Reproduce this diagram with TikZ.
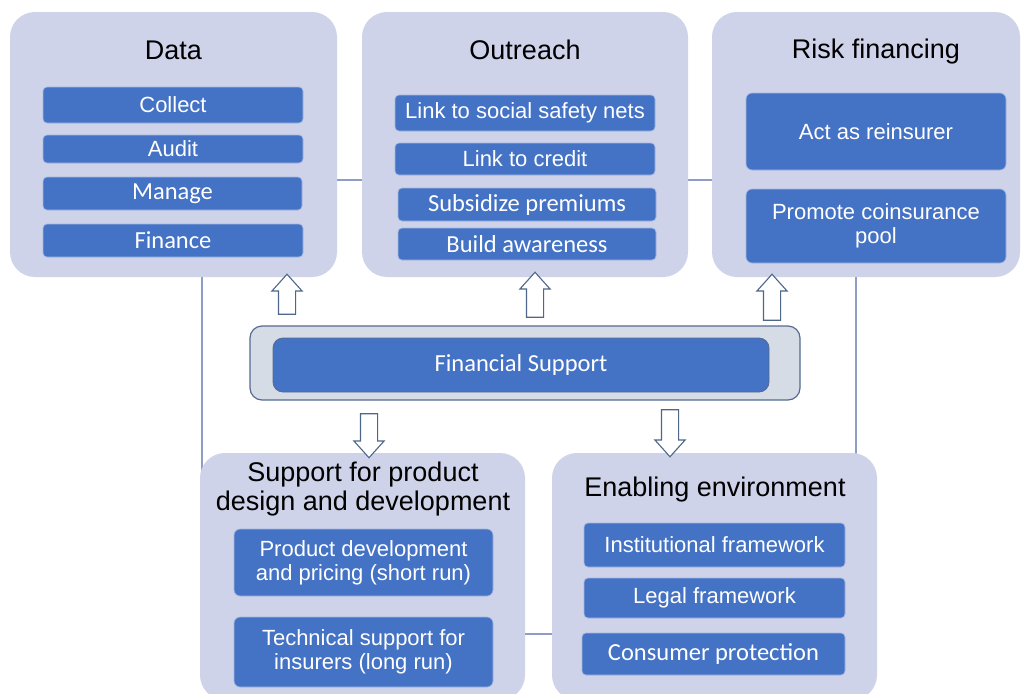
\documentclass[tikz,border=0pt]{standalone}
\usepackage{fontspec}
\setmainfont{Liberation Sans}
\newfontfamily\calfont{Carlito}
\usetikzlibrary{shapes.arrows,backgrounds}
\definecolor{bigfill}{HTML}{CED3EA}
\definecolor{itemblue}{HTML}{4472C4}
\definecolor{itemedge}{HTML}{A3B7E2}
\definecolor{finfill}{HTML}{D6DCE6}
\definecolor{finedge}{HTML}{566B90}
\definecolor{arrowedge}{HTML}{4E6689}
\definecolor{linkcol}{HTML}{8E9CC6}
\pgfdeclarelayer{back0}
\pgfsetlayers{back0,background,main}
\tikzset{
  bigbox/.style={fill=bigfill, draw=none, rounded corners=25pt, inner sep=0pt},
  titletext/.style={font=\fontsize{27}{29}\selectfont, text=black, align=center, inner sep=0pt},
  item/.style={fill=itemblue, draw=itemedge, line width=0.7pt, rounded corners=4pt,
    text=white, font=\fontsize{22}{24}\selectfont, align=center, inner sep=0pt},
  citem/.style={item, font=\calfont\fontsize{24.5}{26}\selectfont},
  blockup/.style={single arrow, shape border rotate=90, draw=arrowedge, fill=white,
    line width=1.1pt, inner sep=8pt, single arrow head extend=6.5pt,
    single arrow tip angle=84},
  blockdown/.style={blockup, shape border rotate=270},
  link/.style={draw=linkcol, line width=1.5pt}
}
\begin{document}
\begin{tikzpicture}[x=1pt,y=-1pt]
\useasboundingbox (0,0) rectangle (1029,694);
\clip (0,0) rectangle (1029,694);
\begin{pgfonlayer}{back0}
  \fill[white] (0,0) rectangle (1029,694);
\end{pgfonlayer}

% big boxes
\node[bigbox, minimum width=327pt, minimum height=265pt] (data) at (173.5,144.5) {};
\node[bigbox, minimum width=326pt, minimum height=265pt] (out) at (525,144.5) {};
\node[bigbox, minimum width=308pt, minimum height=265pt] (risk) at (866,144.5) {};
\node[bigbox, minimum width=325pt, minimum height=247pt] (sup) at (362.5,576.5) {};
\node[bigbox, minimum width=325pt, minimum height=247pt] (env) at (714.5,576.5) {};

% titles
\node[titletext] (tdata) at (173.5,50) {Data};
\node[titletext] (tout) at (525,50) {Outreach};
\node[titletext] (trisk) at (876,52) {Risk financing};
\node[titletext] (tsup) at (363,489) {Support for product\\design and development};
\node[titletext] (tenv) at (715,490) {Enabling environment};

% Data items
\node[item, minimum width=260pt, minimum height=36pt] (collect) at (173,105) {Collect};
\node[item, minimum width=260pt, minimum height=28pt] (audit) at (173,149) {Audit};
\node[citem, minimum width=259pt, minimum height=33pt] (manage) at (172.5,193.5) {Manage};
\node[citem, minimum width=260pt, minimum height=33pt] (finance) at (173,240.5) {Finance};

% Outreach items
\node[item, minimum width=260pt, minimum height=36pt] (social) at (525,113) {Link to social safety nets};
\node[item, minimum width=260pt, minimum height=32pt] (credit) at (525,159) {Link to credit};
\node[citem, minimum width=258pt, minimum height=33pt] (subsid) at (527,204.5) {Subsidize premiums};
\node[citem, minimum width=258pt, minimum height=32pt] (build) at (527,244) {Build awareness};

% Risk items
\node[item, minimum width=260pt, minimum height=77pt, rounded corners=6pt] (act) at (876,131.5) {Act as reinsurer};
\node[item, minimum width=260pt, minimum height=74pt, rounded corners=6pt] (promote) at (876,226) {Promote coinsurance\\pool};

% Support items
\node[item, minimum width=259pt, minimum height=67pt, rounded corners=6pt] (prod) at (363.5,562.5) {Product development\\and pricing (short run)};
\node[item, minimum width=259pt, minimum height=70pt, rounded corners=6pt] (tech) at (363.5,652) {Technical support for\\insurers (long run)};

% Enabling items
\node[item, minimum width=261pt, minimum height=44pt] (inst) at (714.5,545) {Institutional framework};
\node[item, minimum width=261pt, minimum height=40pt] (legal) at (714.5,598) {Legal framework};
\node[citem, minimum width=263pt, minimum height=42pt] (consumer) at (713.5,654) {Consumer protection};

% Financial support
\node[fill=finfill, draw=finedge, line width=1.2pt, rounded corners=12pt,
      minimum width=550pt, minimum height=74pt, inner sep=0pt] (finout) at (525,363) {};
\node[citem, minimum width=496pt, minimum height=54pt, rounded corners=10pt,
      draw=finedge, line width=0.8pt] (fin) at (521,365) {Financial Support};

% block arrows
\node[blockup, minimum height=40pt] (a1) at (287,299) {};
\node[blockup, minimum height=45pt] (a2) at (535,299.5) {};
\node[blockup, minimum height=46pt] (a3) at (772,302) {};
\node[blockdown, minimum height=44pt] (d1) at (369,431) {};
\node[blockdown, minimum height=47pt] (d2) at (670,428.5) {};

% connector lines (behind boxes)
\coordinate (ytop) at (0,180);
\coordinate (ybot) at (0,634);
\coordinate (xl) at (202,0);
\coordinate (xr) at (856,0);
\begin{pgfonlayer}{background}
  \draw[link] (data.east |- ytop) -- (out.west |- ytop);
  \draw[link] (out.east |- ytop) -- (risk.west |- ytop);
  \draw[link] (data.south -| xl) -- ([yshift=-25pt]sup.north -| xl);
  \draw[link] (risk.south -| xr) -- ([yshift=-10pt]env.north -| xr);
  \draw[link] (sup.east |- ybot) -- (env.west |- ybot);
\end{pgfonlayer}
\end{tikzpicture}
\end{document}
